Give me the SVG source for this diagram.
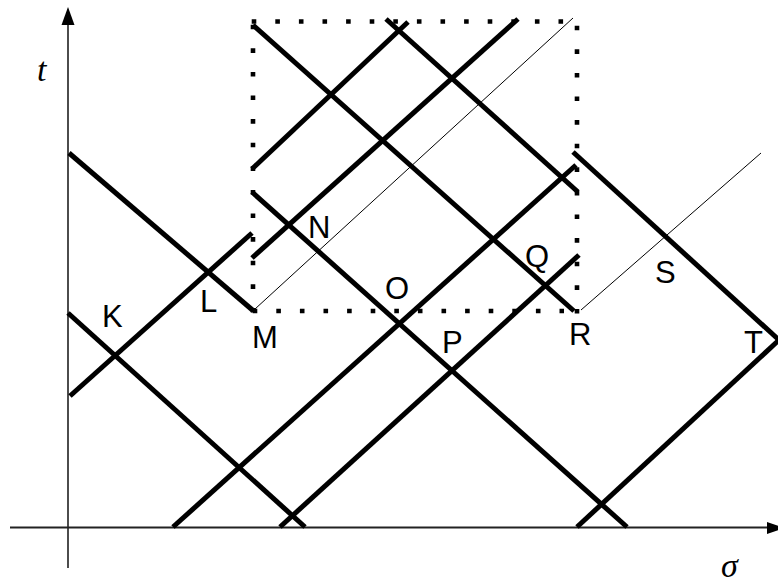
<svg xmlns="http://www.w3.org/2000/svg" width="778" height="585" viewBox="0 0 778 585">
<style>
.thick{stroke:#000;stroke-width:5;fill:none;stroke-linecap:butt}
.thin{stroke:#000;stroke-width:1;fill:none}
.dot{stroke:#000;stroke-width:4.6;fill:none;stroke-dasharray:4.6 19;stroke-linecap:butt}
.lbl{font-family:"Liberation Sans",Arial,sans-serif;font-size:31px;fill:#000}
.ax{font-family:"Liberation Serif","Times New Roman",serif;font-style:italic;font-size:34px;fill:#000}
</style>
<rect width="778" height="585" fill="#fff"/>
<g id="axes">
<line x1="68" y1="22" x2="68" y2="568" stroke="#000" stroke-width="1.4"/>
<polygon points="68,7 61.5,25 74.5,25" fill="#000"/>
<line x1="10" y1="527.5" x2="770" y2="527.5" stroke="#222" stroke-width="2"/>
<polygon points="785,528 767,522 767,534" fill="#000"/>
<text class="ax" x="37" y="81">t</text>
<text class="ax" x="721" y="577">σ</text>
</g>
<g id="box">
<line class="dot" x1="251.7" y1="21.5" x2="564" y2="21.5"/>
<line class="dot" x1="253" y1="24.7" x2="253" y2="313"/>
<line class="dot" x1="577" y1="25.7" x2="577" y2="314"/>
<line class="dot" x1="252.7" y1="311" x2="564" y2="311"/>
</g>
<g id="connectors">
<line class="thick" x1="69" y1="153" x2="253" y2="310.5"/>
<line class="thick" x1="68" y1="313" x2="305" y2="527"/>
<line class="thick" x1="252" y1="192" x2="627" y2="527"/>
<line class="thick" x1="253" y1="25" x2="574" y2="311"/>
<line class="thick" x1="386" y1="19" x2="578" y2="192"/>
<line class="thick" x1="573" y1="152" x2="779" y2="340"/>
<line class="thick" x1="70" y1="396" x2="252" y2="233"/>
<line class="thick" x1="252" y1="258" x2="518" y2="19"/>
<line class="thick" x1="252" y1="169" x2="408" y2="22"/>
<line class="thick" x1="173" y1="527" x2="576" y2="165"/>
<line class="thick" x1="280" y1="527" x2="579" y2="255"/>
<line class="thick" x1="577" y1="527" x2="779" y2="340"/>
<line class="thin" x1="255" y1="309" x2="573" y2="18"/>
<line class="thin" x1="581" y1="310" x2="761" y2="153"/>
</g>
<g id="K"><text class="lbl" x="102" y="327">K</text></g>
<g id="L"><text class="lbl" x="200" y="312">L</text></g>
<g id="M"><text class="lbl" x="252" y="348">M</text></g>
<g id="N"><text class="lbl" x="308" y="238">N</text></g>
<g id="O"><text class="lbl" x="385" y="299">O</text></g>
<g id="P"><text class="lbl" x="442" y="353">P</text></g>
<g id="Q"><text class="lbl" x="525" y="267">Q</text></g>
<g id="R"><text class="lbl" x="569" y="345">R</text></g>
<g id="S"><text class="lbl" x="655" y="283">S</text></g>
<g id="T"><text class="lbl" x="744" y="353">T</text></g>
</svg>
